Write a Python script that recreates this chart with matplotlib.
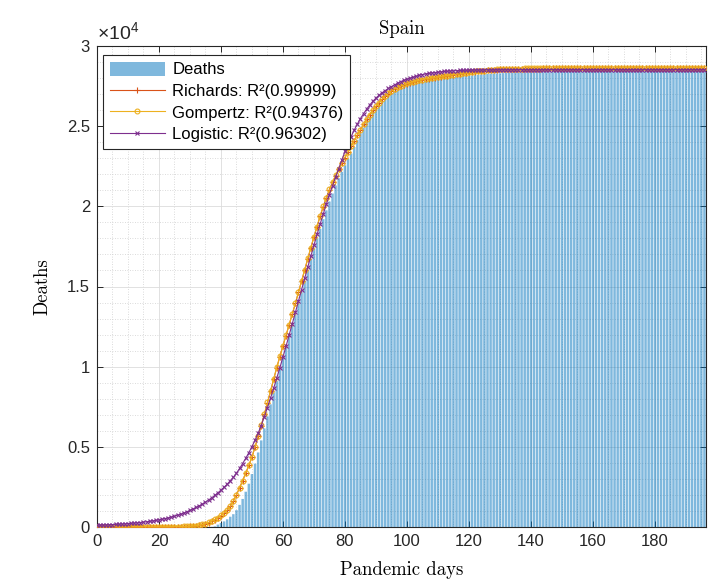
import matplotlib
matplotlib.use("Agg")
import matplotlib.pyplot as plt
from matplotlib.ticker import MultipleLocator

# ---------------- data ----------------
days = list(range(197))

deaths = [
    0, 0, 0, 0, 0, 0, 0, 0, 0, 0,
    0, 0, 0, 0, 0, 0, 0, 0, 0, 0,
    0, 0, 0, 0, 0, 0, 0, 0, 0, 0,
    0, 0, 0, 0, 0, 2, 5, 10, 40, 150,
    250, 350, 480, 640, 800, 1050, 1380, 1750, 2200, 2700,
    3300, 3950, 4650, 5400, 6150, 6900, 7650, 8400, 9100, 9800,
    10500, 11200, 11900, 12550, 13250, 13950, 14650, 15350, 16050, 16700,
    17350, 18000, 18600, 19200, 19750, 20300, 20800, 21300, 21750, 22150,
    22550, 22950, 23300, 23700, 24150, 24550, 24900, 25250, 25550, 25850,
    26100, 26330, 26540, 26730, 26900, 27050, 27180, 27300, 27400, 27480,
    27550, 27610, 27660, 27700, 27740, 27780, 27810, 27840, 27870, 27900,
    27930, 27960, 27990, 28010, 28040, 28060, 28080, 28100, 28120, 28130,
    28140, 28160, 28180, 28200, 28220, 28240, 28260, 28270, 28280, 28290,
    28300, 28310, 28320, 28330, 28340, 28345, 28350, 28352, 28355, 28358,
    28360, 28363, 28364, 28367, 28368, 28371, 28372, 28375, 28376, 28378,
    28380, 28382, 28383, 28385, 28386, 28388, 28389, 28391, 28392, 28393,
    28395, 28396, 28398, 28399, 28400, 28402, 28403, 28404, 28406, 28407,
    28408, 28409, 28411, 28412, 28413, 28414, 28416, 28417, 28418, 28419,
    28420, 28421, 28423, 28424, 28425, 28426, 28427, 28428, 28429, 28430,
    28431, 28432, 28433, 28434, 28435, 28436, 28437,
]

richards = [
    0, 0, 0, 0, 0, 0, 0, 0, 0, 0,
    0, 0, 0, 0, 1, 1, 1, 2, 2, 3,
    3, 4, 5, 6, 7, 9, 12, 16, 21, 28,
    38, 55, 78, 108, 150, 205, 275, 360, 460, 580,
    710, 870, 1050, 1280, 1610, 2000, 2440, 2890, 3360, 3840,
    4360, 4990, 5650, 6330, 7030, 7760, 8490, 9220, 9940, 10630,
    11290, 11940, 12590, 13260, 13940, 14640, 15340, 16050, 16740, 17420,
    18090, 18730, 19390, 19980, 20530, 21040, 21500, 21920, 22320, 22690,
    23040, 23390, 23740, 24090, 24440, 24770, 25110, 25420, 25710, 25980,
    26230, 26460, 26670, 26860, 27030, 27180, 27310, 27420, 27510, 27590,
    27660, 27720, 27770, 27820, 27860, 27900, 27940, 27970, 28000, 28030,
    28060, 28090, 28120, 28150, 28180, 28210, 28240, 28270, 28300, 28330,
    28350, 28380, 28400, 28420, 28440, 28460, 28480, 28495, 28510, 28525,
    28535, 28545, 28555, 28562, 28568, 28574, 28579, 28583, 28587, 28590,
    28592, 28594, 28595, 28596, 28597, 28598, 28599, 28600, 28600, 28601,
    28601, 28602, 28602, 28603, 28603, 28603, 28604, 28604, 28604, 28604,
    28605, 28605, 28605, 28605, 28605, 28606, 28606, 28606, 28606, 28606,
    28606, 28606, 28607, 28607, 28607, 28607, 28607, 28607, 28607, 28607,
    28607, 28607, 28607, 28608, 28608, 28608, 28608, 28608, 28608, 28608,
    28608, 28608, 28608, 28608, 28608, 28608, 28608,
]

gompertz = [
    0, 0, 0, 0, 0, 0, 0, 0, 0, 1,
    1, 1, 1, 2, 2, 3, 3, 4, 5, 6,
    8, 9, 11, 14, 17, 20, 24, 29, 35, 42,
    50, 65, 85, 115, 160, 215, 285, 370, 470, 590,
    720, 880, 1060, 1290, 1620, 2010, 2450, 2900, 3370, 3850,
    4370, 5000, 5660, 6340, 7040, 7770, 8500, 9230, 9950, 10640,
    11300, 11950, 12600, 13270, 13950, 14650, 15350, 16060, 16750, 17430,
    18100, 18740, 19400, 19990, 20540, 21050, 21510, 21930, 22330, 22700,
    23050, 23400, 23750, 24100, 24450, 24780, 25120, 25430, 25720, 25990,
    26240, 26470, 26680, 26870, 27040, 27190, 27320, 27430, 27520, 27600,
    27670, 27730, 27780, 27830, 27870, 27910, 27950, 27980, 28010, 28040,
    28070, 28100, 28130, 28160, 28190, 28220, 28250, 28280, 28310, 28340,
    28360, 28390, 28410, 28430, 28450, 28470, 28490, 28505, 28520, 28535,
    28545, 28555, 28565, 28572, 28578, 28584, 28589, 28593, 28597, 28600,
    28602, 28604, 28605, 28606, 28607, 28608, 28609, 28610, 28610, 28611,
    28611, 28612, 28612, 28612, 28613, 28613, 28613, 28614, 28614, 28614,
    28614, 28614, 28615, 28615, 28615, 28615, 28615, 28615, 28615, 28616,
    28616, 28616, 28616, 28616, 28616, 28616, 28616, 28616, 28616, 28616,
    28617, 28617, 28617, 28617, 28617, 28617, 28617, 28617, 28617, 28617,
    28617, 28617, 28617, 28617, 28617, 28617, 28617,
]

logistic = [
    110, 115, 125, 130, 140, 150, 160, 170, 180, 195,
    210, 225, 240, 260, 280, 300, 325, 350, 380, 410,
    445, 485, 525, 570, 620, 675, 735, 800, 870, 950,
    1035, 1125, 1220, 1320, 1430, 1550, 1680, 1820, 1970, 2130,
    2300, 2480, 2670, 2880, 3100, 3360, 3650, 3960, 4290, 4640,
    5010, 5420, 5860, 6330, 6880, 7450, 8040, 8650, 9280, 9930,
    10600, 11280, 11970, 12670, 13380, 14090, 14800, 15510, 16210, 16900,
    17580, 18250, 18900, 19530, 20140, 20730, 21290, 21820, 22350, 22900,
    23420, 23900, 24350, 24760, 25130, 25470, 25780, 26060, 26320, 26550,
    26750, 26930, 27080, 27220, 27350, 27470, 27570, 27680, 27780, 27860,
    27930, 27990, 28050, 28100, 28180, 28220, 28260, 28290, 28320, 28345,
    28370, 28390, 28410, 28425, 28440, 28452, 28462, 28472, 28480, 28487,
    28493, 28498, 28502, 28506, 28509, 28512, 28514, 28516, 28518, 28519,
    28520, 28521, 28521, 28522, 28522, 28522, 28523, 28523, 28523, 28523,
    28523, 28524, 28524, 28524, 28524, 28524, 28524, 28524, 28524, 28524,
    28524, 28524, 28524, 28524, 28524, 28524, 28524, 28524, 28524, 28524,
    28524, 28524, 28524, 28524, 28524, 28524, 28524, 28524, 28524, 28524,
    28524, 28524, 28524, 28524, 28524, 28524, 28524, 28524, 28524, 28524,
    28524, 28524, 28524, 28524, 28524, 28524, 28524, 28524, 28524, 28524,
    28524, 28524, 28524, 28524, 28524, 28524, 28524,
]

labels = ["Deaths", "Richards: R²(0.99999)", "Gompertz: R²(0.94376)",
          "Logistic: R²(0.96302)"]
x_ticks = [0, 20, 40, 60, 80, 100, 120, 140, 160, 180]
y_ticks = [0, 5000, 10000, 15000, 20000, 25000, 30000]
y_ticklabels = ["0", "0.5", "1", "1.5", "2", "2.5", "3"]

# ---------------- figure ----------------
plt.rcParams["font.family"] = ["Liberation Sans", "DejaVu Sans"]
plt.rcParams["mathtext.fontset"] = "custom"
plt.rcParams["mathtext.rm"] = "Liberation Sans"
plt.rcParams["mathtext.it"] = "Liberation Sans"

fig = plt.figure(figsize=(7.19, 5.83), dpi=100)
ax = fig.add_axes([97 / 719, 56 / 583, 609 / 719, 481 / 583])

axis_col = "#262626"

bars = ax.bar(days, deaths, width=0.8, color="#0072BD", alpha=0.5,
              edgecolor="none", label=labels[0], zorder=2)
for b in bars:
    b.set_snap(False)
l1, = ax.plot(days, richards, color="#D95319", lw=0.8, marker="+", ms=4,
              mew=0.8, label=labels[1], zorder=3)
l2, = ax.plot(days, gompertz, color="#EDB120", lw=0.8, marker="o", ms=3.5,
              mew=0.8, mfc="none", label=labels[2], zorder=4)
l3, = ax.plot(days, logistic, color="#7E2F8E", lw=0.8, marker="x", ms=3.2,
              mew=0.8, label=labels[3], zorder=5)

ax.set_xlim(0, 196.5)
ax.set_ylim(0, 30000)
ax.set_xticks(x_ticks)
ax.set_yticks(y_ticks)
ax.set_yticklabels(y_ticklabels)
ax.xaxis.set_minor_locator(MultipleLocator(5))
ax.yaxis.set_minor_locator(MultipleLocator(1000))

ax.set_axisbelow(True)
ax.grid(which="major", color="#dcdcdc", lw=0.6, ls="-", zorder=0)
ax.grid(which="minor", color="#cfcfcf", lw=0.6, ls=(0, (1, 2)), zorder=0)

ax.tick_params(which="major", direction="in", length=4.5, width=0.7,
               top=True, right=True, colors=axis_col, labelsize=12,
               pad=5)
ax.tick_params(which="minor", length=0, top=True, right=True)
for s in ax.spines.values():
    s.set_color(axis_col)
    s.set_linewidth(0.8)

ax.set_title("Spain", fontfamily="cmr10", fontsize=13.5, color="black", pad=9)
ax.set_xlabel("Pandemic days", fontfamily="cmr10", fontsize=13.5,
              color="black", labelpad=9)
ax.set_ylabel("Deaths", fontfamily="cmr10", fontsize=13.5, color="black",
              labelpad=11)

ax.text(0.0, 1.006, r"$\times\mathregular{10^{4}}$", transform=ax.transAxes,
        ha="left", va="bottom", fontsize=14, color=axis_col)

leg = ax.legend(handles=[bars, l1, l2, l3], labels=labels,
                loc="upper left", bbox_to_anchor=(0.0099, 0.981),
                borderaxespad=0, fontsize=12, frameon=True, fancybox=False,
                edgecolor=axis_col, framealpha=1, handlelength=3.3,
                handleheight=0.9, labelspacing=0.36, borderpad=0.4,
                handletextpad=0.45)
leg.get_frame().set_linewidth(0.8)

fig.savefig("out.png", dpi=100)
